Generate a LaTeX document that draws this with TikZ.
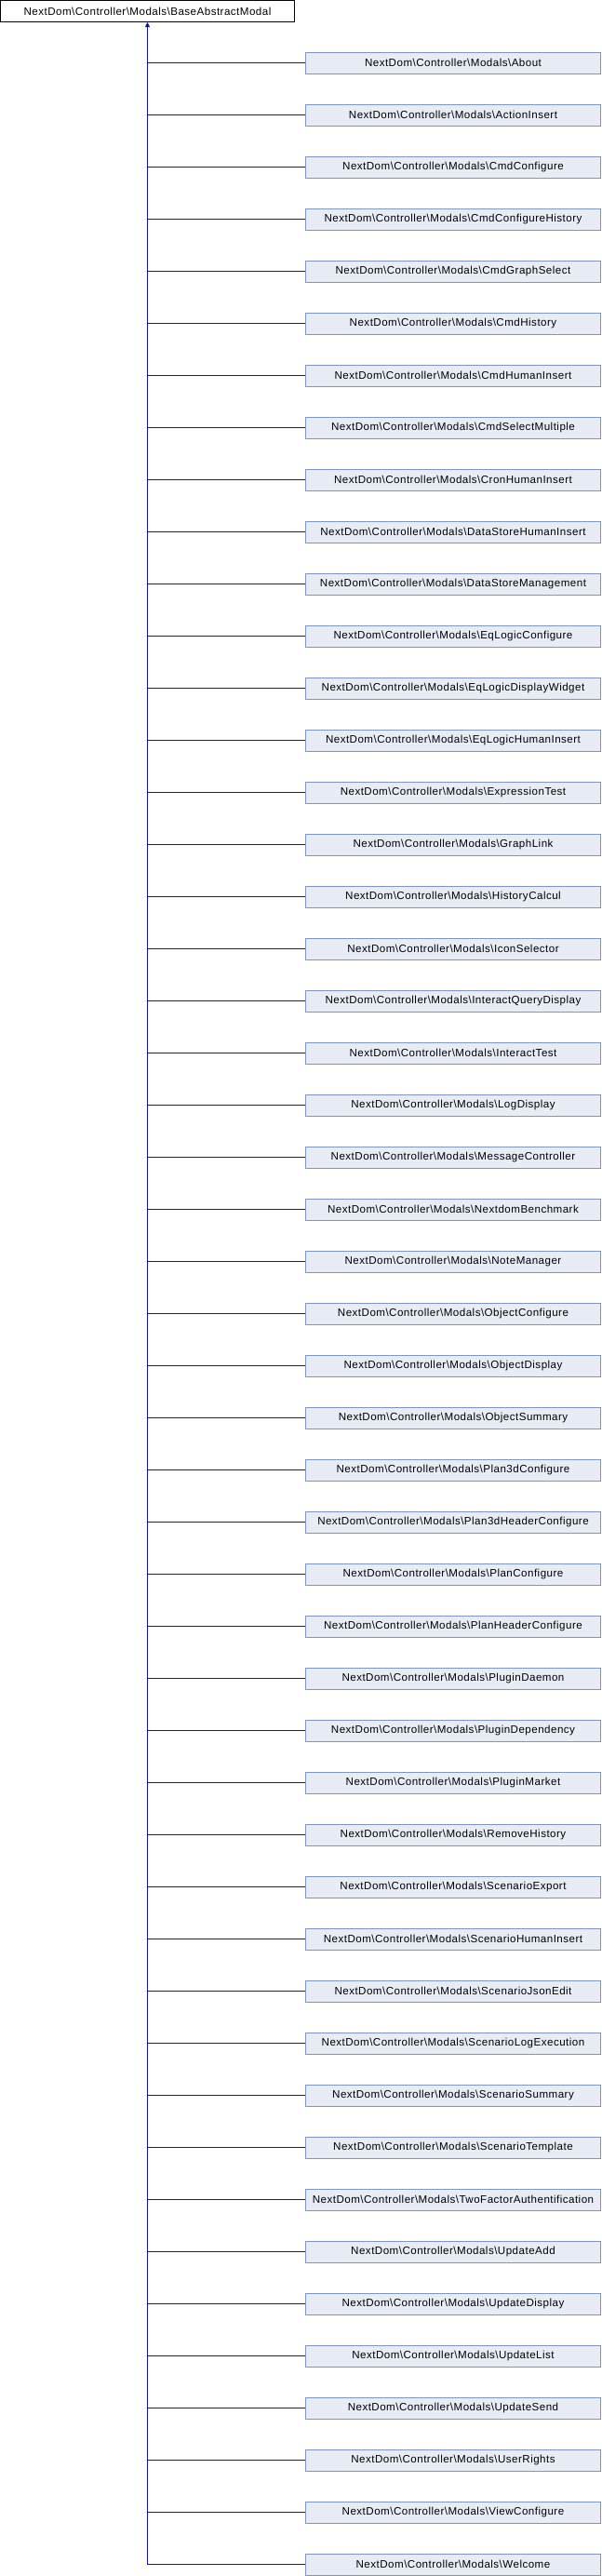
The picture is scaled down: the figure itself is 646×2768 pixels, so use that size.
\documentclass[tikz,border=0pt]{standalone}
\usepackage{fontspec}
\setmainfont[LetterSpace=4]{Liberation Sans}
\usetikzlibrary{arrows.meta}
\definecolor{edgeblue}{RGB}{20,20,150}
\definecolor{childfill}{RGB}{232,236,245}
\definecolor{childdraw}{RGB}{124,150,204}
\tikzset{
  basebox/.style={draw=black, fill=white, line width=1pt, minimum width=316pt, minimum height=23pt, inner sep=0pt, font=\fontsize{11.6}{13}\selectfont},
  childbox/.style={draw=childdraw, fill=childfill, line width=1pt, minimum width=317pt, minimum height=23pt, inner sep=0pt, font=\fontsize{11.6}{13}\selectfont},
  edge/.style={draw=edgeblue, line width=1pt},
}
\begin{document}
\begin{tikzpicture}[x=1pt,y=-1pt]
\useasboundingbox (0,0) rectangle (646,2768);
\node[basebox] (base) at (158.5,12) {NextDom\textbackslash Controller\textbackslash Modals\textbackslash BaseAbstractModal};
\foreach \name [count=\i] in {About,ActionInsert,CmdConfigure,CmdConfigureHistory,CmdGraphSelect,CmdHistory,CmdHumanInsert,CmdSelectMultiple,CronHumanInsert,DataStoreHumanInsert,DataStoreManagement,EqLogicConfigure,EqLogicDisplayWidget,EqLogicHumanInsert,ExpressionTest,GraphLink,HistoryCalcul,IconSelector,InteractQueryDisplay,InteractTest,LogDisplay,MessageController,NextdomBenchmark,NoteManager,ObjectConfigure,ObjectDisplay,ObjectSummary,Plan3dConfigure,Plan3dHeaderConfigure,PlanConfigure,PlanHeaderConfigure,PluginDaemon,PluginDependency,PluginMarket,RemoveHistory,ScenarioExport,ScenarioHumanInsert,ScenarioJsonEdit,ScenarioLogExecution,ScenarioSummary,ScenarioTemplate,TwoFactorAuthentification,UpdateAdd,UpdateDisplay,UpdateList,UpdateSend,UserRights,ViewConfigure,Welcome}{
  \node[childbox] (c\i) at (487,{67.5+56*(\i-1)}) {NextDom\textbackslash Controller\textbackslash Modals\textbackslash \name};
  \draw[edge] (c\i.west) -- (c\i.west -| base.south);
}
\draw[edge, -{Triangle[length=5pt,width=5pt]}] (c49.west -| base.south) -- (base.south);
\end{tikzpicture}
\end{document}
